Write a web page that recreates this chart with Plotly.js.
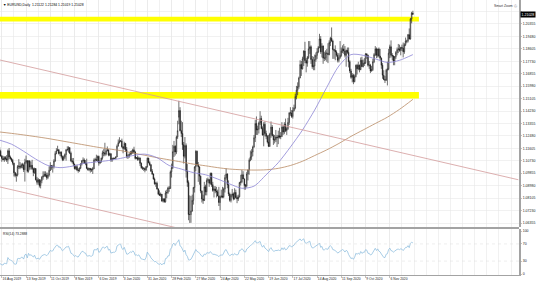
<!DOCTYPE html>
<html><head><meta charset="utf-8">
<script src="https://cdn.plot.ly/plotly-3.0.1.min.js"></script>
<style>html,body{margin:0;padding:0;background:#fff;}#chart{width:536px;height:283px;}</style>
</head><body><div id="chart"></div>
<script>
const symbol = 'EURUSD,Daily';
const firstDate = '2019-08-14';
const open = [1.1170,1.1140,1.1107,
1.1090,1.1079,1.1096,1.1088,1.1079, 1.1143,1.1100,1.1089,1.1076,1.1056, 1.0989,1.0970,1.0973,1.1033,1.1036,
1.1027,1.1045,1.1044,1.1011,1.1063, 1.1074,1.1000,1.1073,1.1029,1.1041, 1.1017,1.0990,1.1019,1.0940,1.0922,
1.0940,1.0899,1.0933,1.0958,1.0967, 1.0978,1.0971,1.0955,1.0973,1.1006, 1.1040,1.1029,1.1032,1.1072,1.1124,
1.1143,1.1150,1.1124,1.1133,1.1104, 1.1081,1.1099,1.1117,1.1152,1.1152, 1.1165,1.1127,1.1073,1.1067,1.1050,
1.1018,1.1032,1.1008,1.1005,1.1022, 1.1052,1.1075,1.1078,1.1058,1.1055, 1.1020,1.1011,1.1019,1.1010,1.1009,
1.1017,1.1079,1.1081,1.1077,1.1104, 1.1058,1.1065,1.1092,1.1130,1.1130, 1.1120,1.1143,1.1150,1.1113,1.1123,
1.1080,1.1090,1.1090,1.1090,1.1100, 1.1176,1.1200,1.1213,1.1213,1.1172, 1.1160,1.1195,1.1152,1.1105,1.1105,
1.1120,1.1135,1.1128,1.1150,1.1135, 1.1090,1.1095,1.1083,1.1092,1.1055, 1.1025,1.1020,1.1020,1.1010,1.1032,
1.1092,1.1060,1.1045,1.1000,1.0980, 1.0945,1.0911,1.0915,1.0875,1.0840, 1.0830,1.0838,1.0790,1.0805,1.0785,
1.0846,1.0850,1.0882,1.0880,1.0995, 1.1025,1.1137,1.1175,1.1135,1.1240, 1.1380,1.1426,1.1285,1.1265,1.1186,
1.1105,1.1180,1.1000,1.0920,1.0695, 1.0695,1.0720,1.0795,1.0885,1.1030, 1.1140,1.1045,1.1030,1.0965,1.0860,
1.0805,1.0795,1.0890,1.0855,1.0935, 1.0940,1.0915,1.0985,1.0905,1.0865, 1.0875,1.0860,1.0855,1.0825,1.0780,
1.0820,1.0825,1.0820,1.0875,1.0955, 1.0980,1.0905,1.0840,1.0795,1.0830, 1.0840,1.0805,1.0850,1.0815,1.0805,
1.0820,1.0920,1.0925,1.0975,1.0945, 1.0900,1.0895,1.0980,1.1010,1.1077, 1.1100,1.1135,1.1170,1.1235,1.1335,
1.1290,1.1295,1.1340,1.1370,1.1300, 1.1255,1.1330,1.1265,1.1245,1.1205, 1.1175,1.1260,1.1310,1.1250,1.1220,
1.1220,1.1240,1.1235,1.1250,1.1240, 1.1245,1.1310,1.1275,1.1330,1.1285, 1.1300,1.1343,1.1410,1.1410,1.1385,
1.1427,1.1445,1.1525,1.1570,1.1595, 1.1655,1.1750,1.1720,1.1790,1.1845, 1.1778,1.1760,1.1800,1.1860,1.1875,
1.1785,1.1735,1.1740,1.1785,1.1815, 1.1840,1.1870,1.1930,1.1840,1.1880, 1.1795,1.1795,1.1830,1.1830,1.1820,
1.1905,1.1935,1.1915,1.1855,1.1850, 1.1838,1.1815,1.1780,1.1800,1.1815, 1.1845,1.1860,1.1845,1.1815,1.1850,
1.1835,1.1770,1.1705,1.1660,1.1675, 1.1630,1.1665,1.1745,1.1720,1.1745, 1.1715,1.1780,1.1735,1.1760,1.1760,
1.1825,1.1815,1.1745,1.1745,1.1705, 1.1715,1.1770,1.1820,1.1860,1.1815, 1.1860,1.1810,1.1795,1.1745,1.1675,
1.1645,1.1640,1.1710,1.1720,1.1830, 1.1875,1.1815,1.1810,1.1775,1.1805, 1.1835,1.1855,1.1860,1.1850,1.1870,
1.1865,1.1840,1.1890,1.1915,1.1915, 1.1960,1.1930,1.2070,1.21122];
const high = [1.1189,1.1151,1.1114,
1.1108,1.1106,1.1106,1.1113,1.1153, 1.1163,1.1110,1.1095,1.1086,1.1060, 1.0995,1.0985,1.1043,1.1085,1.1065,
1.1055,1.1059,1.1054,1.1087,1.1110, 1.1077,1.1075,1.1075,1.1068,1.1080, 1.1025,1.1025,1.1020,1.0960,1.0952,
1.0944,1.0943,1.0965,1.0999,1.0999, 1.0999,1.0990,1.0990,1.1034,1.1063, 1.1042,1.1045,1.1085,1.1140,1.1162,
1.1179,1.1156,1.1139,1.1140,1.1110, 1.1110,1.1125,1.1154,1.1175,1.1175, 1.1170,1.1138,1.1092,1.1093,1.1053,
1.1039,1.1047,1.1020,1.1027,1.1055, 1.1075,1.1097,1.1090,1.1078,1.1088, 1.1028,1.1024,1.1023,1.1020,1.1030,
1.1090,1.1095,1.1116,1.1110,1.1110, 1.1075,1.1095,1.1145,1.1155,1.1200, 1.1155,1.1174,1.1153,1.1130,1.1125,
1.1095,1.1096,1.1095,1.1105,1.1188, 1.1223,1.1239,1.1218,1.1229,1.1175, 1.1207,1.1199,1.1170,1.1119,1.1125,
1.1143,1.1146,1.1158,1.1172,1.1143, 1.1100,1.1110,1.1102,1.1097,1.1062, 1.1035,1.1028,1.1025,1.1037,1.1096,
1.1095,1.1070,1.1050,1.1015,1.0985, 1.0955,1.0925,1.0927,1.0880,1.0865, 1.0850,1.0840,1.0810,1.0810,1.0863,
1.0870,1.0891,1.0896,1.1005,1.1053, 1.1185,1.1213,1.1183,1.1250,1.1355, 1.1495,1.1450,1.1355,1.1345,1.1205,
1.1240,1.1195,1.1050,1.0935,1.0830, 1.0825,1.0835,1.0890,1.1035,1.1147, 1.1145,1.1065,1.1035,1.0970,1.0865,
1.0835,1.0925,1.0905,1.0950,1.0955, 1.0945,1.0990,1.0990,1.0925,1.0895, 1.0895,1.0890,1.0870,1.0890,1.0830,
1.0870,1.0890,1.0885,1.0975,1.1020, 1.0985,1.0935,1.0850,1.0840,1.0875, 1.0850,1.0880,1.0870,1.0830,1.0835,
1.0925,1.0975,1.1010,1.1000,1.0950, 1.0910,1.0995,1.1010,1.1090,1.1145, 1.1155,1.1180,1.1255,1.1360,1.1385,
1.1320,1.1350,1.1422,1.1390,1.1315, 1.1345,1.1350,1.1285,1.1255,1.1255, 1.1270,1.1350,1.1325,1.1260,1.1255,
1.1290,1.1255,1.1285,1.1305,1.1275, 1.1345,1.1320,1.1345,1.1370,1.1310, 1.1375,1.1415,1.1450,1.1430,1.1450,
1.1468,1.1545,1.1600,1.1625,1.1665, 1.1780,1.1775,1.1805,1.1850,1.1910, 1.1795,1.1810,1.1915,1.1915,1.1885,
1.1810,1.1805,1.1820,1.1835,1.1865, 1.1880,1.1966,1.1950,1.1900,1.1885, 1.1840,1.1850,1.1860,1.1900,1.1920,
1.1945,1.2011,1.1925,1.1860,1.1885, 1.1850,1.1830,1.1830,1.1915,1.1870, 1.1885,1.1895,1.1880,1.1855,1.1870,
1.1870,1.1780,1.1720,1.1690,1.1685, 1.1680,1.1750,1.1755,1.1770,1.1750, 1.1800,1.1805,1.1785,1.1795,1.1830,
1.1830,1.1820,1.1775,1.1755,1.1740, 1.1790,1.1830,1.1880,1.1870,1.1860, 1.1870,1.1860,1.1800,1.1760,1.1710,
1.1670,1.1720,1.1770,1.1860,1.1890, 1.1920,1.1830,1.1815,1.1810,1.1845, 1.1870,1.1895,1.1890,1.1875,1.1890,
1.1905,1.1900,1.1940,1.1925,1.1965, 1.2004,1.2077,1.2121,1.21284];
const low = [1.1135,1.1102,1.1066,
1.1079,1.1065,1.1076,1.1065,1.1051, 1.1085,1.1080,1.1065,1.1042,1.0963, 1.0957,1.0926,1.0963,1.1015,1.1014,
1.1020,1.1020,1.0994,1.0927,1.1053, 1.0990,1.0990,1.1010,1.1012,1.1008, 1.0965,1.0982,1.0934,1.0905,1.0905,
1.0885,1.0879,1.0915,1.0940,1.0960, 1.0959,1.0940,1.0944,1.0962,1.1002, 1.1010,1.0990,1.1019,1.1065,1.1119,
1.1142,1.1117,1.1106,1.1090,1.1071, 1.1073,1.1087,1.1074,1.1140,1.1131, 1.1120,1.1064,1.1055,1.1035,1.1012,
1.1010,1.1000,1.0989,1.0995,1.1015, 1.1040,1.1060,1.1051,1.1042,1.1014, 1.1003,1.1000,1.0990,1.0995,1.0981,
1.1015,1.1066,1.1071,1.1065,1.1039, 1.1050,1.1060,1.1081,1.1105,1.1105, 1.1110,1.1140,1.1105,1.1106,1.1066,
1.1066,1.1080,1.1085,1.1085,1.1100, 1.1174,1.1195,1.1205,1.1165,1.1126, 1.1150,1.1135,1.1091,1.1086,1.1093,
1.1110,1.1115,1.1122,1.1126,1.1082, 1.1084,1.1073,1.1075,1.1036,1.1017, 1.1009,1.1002,1.0992,1.1002,1.1025,
1.1055,1.1037,1.0995,1.0973,1.0940, 1.0905,1.0890,1.0870,1.0832,1.0827, 1.0820,1.0785,1.0780,1.0778,1.0779,
1.0810,1.0840,1.0855,1.0875,1.0955, 1.1015,1.1100,1.1110,1.1120,1.1227, 1.1330,1.1280,1.1240,1.1150,1.1054,
1.1090,1.0955,1.0890,1.0655,1.0636, 1.0637,1.0715,1.0765,1.0850,1.1000, 1.1035,1.0925,1.0905,1.0845,1.0780,
1.0770,1.0790,1.0830,1.0830,1.0920, 1.0890,1.0905,1.0890,1.0855,1.0815, 1.0845,1.0815,1.0825,1.0755,1.0725,
1.0810,1.0810,1.0810,1.0850,1.0940, 1.0880,1.0825,1.0785,1.0780,1.0815, 1.0795,1.0800,1.0810,1.0775,1.0790,
1.0815,1.0900,1.0915,1.0945,1.0870, 1.0870,1.0885,1.0935,1.0975,1.1070, 1.1080,1.1105,1.1165,1.1205,1.1255,
1.1255,1.1265,1.1325,1.1295,1.1250, 1.1175,1.1245,1.1225,1.1195,1.1170, 1.1170,1.1235,1.1245,1.1185,1.1195,
1.1205,1.1170,1.1190,1.1230,1.1225, 1.1240,1.1255,1.1260,1.1275,1.1255, 1.1290,1.1325,1.1390,1.1375,1.1370,
1.1420,1.1435,1.1505,1.1535,1.1580, 1.1655,1.1670,1.1715,1.1740,1.1760, 1.1695,1.1735,1.1790,1.1825,1.1755,
1.1720,1.1710,1.1710,1.1770,1.1790, 1.1830,1.1865,1.1825,1.1800,1.1755, 1.1775,1.1780,1.1770,1.1760,1.1815,
1.1880,1.1910,1.1790,1.1790,1.1780, 1.1805,1.1765,1.1765,1.1790,1.1805, 1.1830,1.1825,1.1800,1.1735,1.1825,
1.1730,1.1690,1.1650,1.1625,1.1612, 1.1625,1.1660,1.1680,1.1710,1.1695, 1.1710,1.1735,1.1730,1.1740,1.1755,
1.1790,1.1735,1.1720,1.1690,1.1700, 1.1705,1.1760,1.1810,1.1795,1.1800, 1.1800,1.1780,1.1720,1.1650,1.1640,
1.1620,1.1635,1.1603,1.1710,1.1795, 1.1800,1.1780,1.1745,1.1745,1.1790, 1.1815,1.1830,1.1840,1.1815,1.1845,
1.1800,1.1825,1.1880,1.1900,1.1905, 1.1925,1.1925,1.2040,1.21019];
const close = [1.1140,1.1107,1.1090,
1.1079,1.1096,1.1088,1.1079,1.1143, 1.1100,1.1089,1.1076,1.1056,1.0989, 1.0970,1.0973,1.1033,1.1036,1.1027,
1.1045,1.1044,1.1011,1.1063,1.1074, 1.1000,1.1073,1.1029,1.1041,1.1017, 1.0990,1.1019,1.0940,1.0922,1.0940,
1.0899,1.0933,1.0958,1.0967,1.0978, 1.0971,1.0955,1.0973,1.1006,1.1040, 1.1029,1.1032,1.1072,1.1124,1.1143,
1.1150,1.1124,1.1133,1.1104,1.1081, 1.1099,1.1117,1.1152,1.1152,1.1165, 1.1127,1.1073,1.1067,1.1050,1.1018,
1.1032,1.1008,1.1005,1.1022,1.1052, 1.1075,1.1078,1.1058,1.1055,1.1020, 1.1011,1.1019,1.1010,1.1009,1.1017,
1.1079,1.1081,1.1077,1.1104,1.1058, 1.1065,1.1092,1.1130,1.1130,1.1120, 1.1143,1.1150,1.1113,1.1123,1.1080,
1.1090,1.1090,1.1090,1.1100,1.1176, 1.1200,1.1213,1.1213,1.1172,1.1160, 1.1195,1.1152,1.1105,1.1105,1.1120,
1.1135,1.1128,1.1150,1.1135,1.1090, 1.1095,1.1083,1.1092,1.1055,1.1025, 1.1020,1.1020,1.1010,1.1032,1.1092,
1.1060,1.1045,1.1000,1.0980,1.0945, 1.0911,1.0915,1.0875,1.0840,1.0830, 1.0838,1.0790,1.0805,1.0785,1.0846,
1.0850,1.0882,1.0880,1.0995,1.1025, 1.1137,1.1175,1.1135,1.1240,1.1285, 1.1426,1.1285,1.1265,1.1186,1.1105,
1.1180,1.1000,1.0920,1.0695,1.0695, 1.0720,1.0795,1.0885,1.1030,1.1140, 1.1045,1.1030,1.0965,1.0860,1.0805,
1.0795,1.0890,1.0855,1.0935,1.0940, 1.0915,1.0985,1.0905,1.0865,1.0875, 1.0860,1.0855,1.0825,1.0780,1.0820,
1.0825,1.0820,1.0875,1.0955,1.0980, 1.0905,1.0840,1.0795,1.0830,1.0840, 1.0805,1.0850,1.0815,1.0805,1.0820,
1.0920,1.0925,1.0975,1.0945,1.0900, 1.0895,1.0980,1.1010,1.1077,1.1100, 1.1135,1.1170,1.1235,1.1335,1.1290,
1.1295,1.1340,1.1370,1.1300,1.1255, 1.1330,1.1265,1.1245,1.1205,1.1175, 1.1260,1.1310,1.1250,1.1220,1.1220,
1.1240,1.1235,1.1250,1.1240,1.1245, 1.1310,1.1275,1.1330,1.1285,1.1300, 1.1343,1.1410,1.1410,1.1385,1.1427,
1.1445,1.1525,1.1570,1.1595,1.1655, 1.1750,1.1720,1.1790,1.1845,1.1778, 1.1760,1.1800,1.1860,1.1875,1.1785,
1.1735,1.1740,1.1785,1.1815,1.1840, 1.1870,1.1930,1.1840,1.1880,1.1795, 1.1795,1.1830,1.1830,1.1820,1.1905,
1.1935,1.1915,1.1855,1.1850,1.1838, 1.1815,1.1780,1.1800,1.1815,1.1845, 1.1860,1.1845,1.1815,1.1850,1.1835,
1.1770,1.1705,1.1660,1.1675,1.1630, 1.1665,1.1745,1.1720,1.1745,1.1715, 1.1780,1.1735,1.1760,1.1760,1.1825,
1.1815,1.1745,1.1745,1.1705,1.1715, 1.1770,1.1820,1.1860,1.1815,1.1860, 1.1810,1.1795,1.1745,1.1675,1.1645,
1.1640,1.1710,1.1720,1.1830,1.1875, 1.1815,1.1810,1.1775,1.1805,1.1835, 1.1855,1.1860,1.1850,1.1870,1.1865,
1.1840,1.1890,1.1915,1.1915,1.1960, 1.1930,1.2070,1.2112,1.21028];

const maDates = ['2019-08-14','2019-08-28','2019-09-11','2019-09-25','2019-10-09','2019-10-23','2019-11-06','2019-11-20','2019-12-04','2019-12-18',
'2020-01-01','2020-01-15','2020-01-29','2020-02-12','2020-02-26','2020-03-11','2020-03-25','2020-04-08','2020-04-22','2020-05-06',
'2020-05-20','2020-06-03','2020-06-17','2020-07-01','2020-07-15','2020-07-29','2020-08-12','2020-08-26','2020-09-09','2020-09-23',
'2020-10-07','2020-10-21','2020-11-04','2020-11-18','2020-12-03'];
const maFast = [1.1219,1.1190,1.1140,1.1085,1.1040,1.1025,1.1035,1.1055,1.1065,1.1075,
1.1090,1.1110,1.1120,1.1095,1.1040,1.1015,1.0990,1.0975,1.0945,1.0910,
1.0880,1.0895,1.0975,1.1060,1.1170,1.1290,1.1430,1.1590,1.1740,1.1820,
1.1815,1.1790,1.1765,1.1780,1.1820];
const maSlow = [1.1276,1.1266,1.1255,1.1243,1.1230,1.1215,1.1200,1.1185,1.1170,1.1157,
1.1145,1.1128,1.1112,1.1095,1.1080,1.1065,1.1050,1.1038,1.1025,1.1015,
1.1010,1.1008,1.1010,1.1020,1.1040,1.1070,1.1110,1.1150,1.1195,1.1245,
1.1290,1.1335,1.1380,1.1435,1.1505];

// drawn objects
const trendDates = ['2019-08-14','2021-04-05'];
const trendUpper = [1.17830,1.09398];
const trendLower = [1.08897,1.00465];
const zoneDates = ['2019-08-14','2020-12-10'];
const zoneHigh = [1.2052,1.2087];
const zoneLow = [1.1511,1.1557];

const tickDates = ['2019-08-16','2019-09-13','2019-10-11','2019-11-08','2019-12-06','2020-01-03','2020-01-31','2020-02-28','2020-03-27',
'2020-04-24','2020-05-22','2020-06-19','2020-07-17','2020-08-14','2020-09-11','2020-10-09','2020-11-06'];
const priceTicks = [1.06355,1.07230,1.08105,1.08980,1.09855,1.10730,1.11605,1.12480,1.13355,1.14230,
1.15105,1.15980,1.16855,1.17730,1.18605,1.19480,1.20355,1.21230];
const rsiLevels = [0,30,70,100];
const rsiLabel = 'RSI(14) 73.2888';
const months = ['Jan','Feb','Mar','Apr','May','Jun','Jul','Aug','Sep','Oct','Nov','Dec'];

function tradingDays(start, n){
  const out=[]; const d=new Date(start+'T00:00:00Z');
  while(out.length<n){ const w=d.getUTCDay(); if(w!==0&&w!==6) out.push(d.toISOString().slice(0,10)); d.setUTCDate(d.getUTCDate()+1); }
  return out;
}
const allDays = tradingDays(firstDate, 440);
const pos = d => allDays.indexOf(d);
const idx = close.map((_,i)=>i);
const tickIdx = tickDates.map(pos);
const tickText = tickDates.map(d=>{const p=d.split('-'); return (+p[2])+' '+months[+p[1]-1]+' '+p[0];});
const last = close.length-1;
const priceText = priceTicks.map(p=> Math.abs(p-close[last])<0.004 ? '' : p.toFixed(5));

// Wilder RSI, warm-started with the average gain/loss of the first n changes
function rsi(c,n){
  let ag=0, al=0;
  for(let i=1;i<=n;i++){ const d=c[i]-c[i-1]; ag+=Math.max(d,0)/n; al+=Math.max(-d,0)/n; }
  const out=[100-100/(1+ag/al)];
  for(let i=1;i<c.length;i++){
    const d=c[i]-c[i-1];
    ag=(ag*(n-1)+Math.max(d,0))/n; al=(al*(n-1)+Math.max(-d,0))/n;
    out.push(al===0?100:100-100/(1+ag/al));
  }
  return out;
}
const rsiVals = rsi(close,14);

const traces = [
  {type:'candlestick', x:idx, open:open, high:high, low:low, close:close, xaxis:'x', yaxis:'y',
   increasing:{line:{color:'#111',width:0.6}, fillcolor:'#ffffff'},
   decreasing:{line:{color:'#111',width:0.6}, fillcolor:'#111111'},
   whiskerwidth:0, hoverinfo:'skip', showlegend:false},
  {type:'scatter', mode:'lines', x:maDates.map(pos), y:maSlow, xaxis:'x', yaxis:'y',
   line:{color:'#b98a63', width:0.8, shape:'spline', smoothing:0.8}, hoverinfo:'skip'},
  {type:'scatter', mode:'lines', x:maDates.map(pos), y:maFast, xaxis:'x', yaxis:'y',
   line:{color:'#8c84d4', width:0.8, shape:'spline', smoothing:0.8}, hoverinfo:'skip'},
  {type:'scatter', mode:'lines', x:trendDates.map(pos), y:trendUpper, xaxis:'x', yaxis:'y',
   line:{color:'#d39a9a', width:0.8}, hoverinfo:'skip'},
  {type:'scatter', mode:'lines', x:trendDates.map(pos), y:trendLower, xaxis:'x', yaxis:'y',
   line:{color:'#d39a9a', width:0.8}, hoverinfo:'skip'},
  {type:'scatter', mode:'lines', x:idx, y:rsiVals, xaxis:'x', yaxis:'y2',
   line:{color:'#93c0e0', width:0.8}, hoverinfo:'skip'}
];

const grid = '#e8e8e8';
const frame = '#a3a3a3';
const layout = {
  width:536, height:283, margin:{l:0,r:17,t:0,b:8},
  paper_bgcolor:'#ffffff', plot_bgcolor:'#ffffff', showlegend:false,
  font:{family:'Liberation Sans, Arial, sans-serif', size:3.4, color:'#222'},
  xaxis:{type:'linear', range:[0.495,428.54], anchor:'y2', tickmode:'array', tickvals:tickIdx, ticktext:tickText,
    tickangle:0, ticklabelposition:'outside right', ticks:'outside', ticklen:1.5, tickwidth:0.6, tickcolor:'#999',
    showgrid:true, gridcolor:grid, gridwidth:0.6,
    minor:{tickmode:'linear', tick0:tickIdx[0], dtick:10, showgrid:true, gridcolor:grid, gridwidth:0.6, ticks:''},
    zeroline:false, showline:true, linecolor:frame, linewidth:1, rangeslider:{visible:false},
    tickfont:{size:3.3, color:'#222'}},
  yaxis:{domain:[0.1745,1], range:[1.06074,1.2204], side:'right', anchor:'x',
    tickmode:'array', tickvals:priceTicks, ticktext:priceText, ticks:'outside', ticklen:1.5, tickwidth:0.6, tickcolor:'#999',
    showgrid:true, gridcolor:grid, gridwidth:0.6, zeroline:false, showline:true, linecolor:frame, linewidth:1.5,
    tickfont:{size:3.5, color:'#222'}},
  yaxis2:{domain:[0,0.16727], range:[-2.33,104.65], side:'right', anchor:'x',
    tickmode:'array', tickvals:rsiLevels, ticktext:rsiLevels.map(String), ticks:'outside', ticklen:1.5, tickwidth:0.6, tickcolor:'#999',
    showgrid:false, zeroline:false, showline:true, linecolor:frame, linewidth:1.5, tickfont:{size:3.5, color:'#222'}},
  shapes:[
    {type:'rect', xref:'x', yref:'y', x0:pos(zoneDates[0])-2, x1:pos(zoneDates[1]), y0:zoneHigh[0], y1:zoneHigh[1], fillcolor:'#ffff00', line:{width:0}, layer:'between'},
    {type:'rect', xref:'x', yref:'y', x0:pos(zoneDates[0])-2, x1:pos(zoneDates[1]), y0:zoneLow[0], y1:zoneLow[1], fillcolor:'#ffff00', line:{width:0}, layer:'between'},
    {type:'line', xref:'paper', yref:'y2', x0:0, x1:1, y0:30, y1:30, line:{color:'#dcdcdc', width:0.5, dash:'dot'}},
    {type:'line', xref:'paper', yref:'y2', x0:0, x1:1, y0:70, y1:70, line:{color:'#dcdcdc', width:0.5, dash:'dot'}},
    {type:'line', xref:'paper', yref:'paper', x0:0, x1:1, y0:0.1705, y1:0.1705, line:{color:frame, width:2}}
  ],
  annotations:[
    {xref:'paper', yref:'paper', x:0, y:1, xanchor:'left', yanchor:'top', xshift:1, yshift:-1, showarrow:false,
     text:'▼ '+symbol+'  '+[open[last],high[last],low[last],close[last]].map(v=>v.toFixed(5)).join(' '), font:{size:3.4, color:'#000'}},
    {xref:'paper', yref:'paper', x:0.9995, y:1, xanchor:'right', yanchor:'top', yshift:-1.5, showarrow:false,
     text:'Smart Zoom ⓘ', font:{size:3.4, color:'#333'}},
    {xref:'paper', yref:'paper', x:0, y:0.16727, xanchor:'left', yanchor:'top', xshift:1, yshift:-1, showarrow:false,
     text:rsiLabel, font:{size:3.3, color:'#222'}},
    {xref:'paper', yref:'y', x:1, y:close[last], xanchor:'left', yanchor:'middle', xshift:0.5, showarrow:false,
     text:close[last].toFixed(5), font:{size:3.5, color:'#fff'}, bgcolor:'#000', borderpad:0.6}
  ]
};
Plotly.newPlot('chart', traces, layout, {staticPlot:true, displayModeBar:false});
</script>
</body></html>
